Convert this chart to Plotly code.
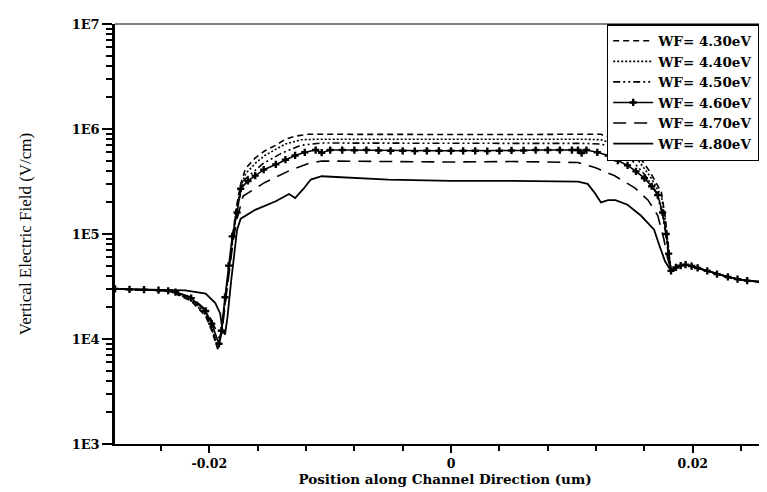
import plotly.graph_objects as go

# ---------------- data ----------------
series_names = ["WF= 4.30eV", "WF= 4.40eV", "WF= 4.50eV", "WF= 4.60eV", "WF= 4.70eV", "WF= 4.80eV"]

# common left start (um, V/cm)
head_x = [-0.0278, -0.0266, -0.0254, -0.0242]
head_y = [3.0e4, 2.97e4, 2.95e4, 2.92e4]

# common right tail
tail_x = [0.0182, 0.0186, 0.0190, 0.0194, 0.0199, 0.0204, 0.0212, 0.0220, 0.0229, 0.0237, 0.0245, 0.0256, 0.0268]
tail_y = [4.45e4, 4.8e4, 5.0e4, 5.1e4, 4.95e4, 4.75e4, 4.45e4, 4.15e4, 3.9e4, 3.72e4, 3.6e4, 3.5e4, 3.45e4]

wf430_x = [-0.0234, -0.0228, -0.0215, -0.0203, -0.0198, -0.0193, -0.0190, -0.0187, -0.0184, -0.0181, -0.0178, -0.0174,
           -0.0170, -0.0162, -0.0154, -0.0145, -0.0137, -0.0129, -0.0118, -0.0090, -0.0050, 0.0, 0.0050, 0.0090,
           0.0124, 0.0138, 0.0155, 0.0165, 0.0174, 0.0177, 0.0179, 0.0181]
wf430_y = [2.88e4, 2.7e4, 2.3e4, 1.65e4, 1.2e4, 8.0e3, 1.1e4, 2.2e4, 4.5e4, 9.0e4, 1.7e5, 3.0e5,
           4.2e5, 5.3e5, 6.2e5, 7.0e5, 8.0e5, 8.55e5, 8.9e5, 8.9e5, 8.85e5, 8.8e5, 8.85e5, 8.9e5,
           8.9e5, 7.7e5, 5.6e5, 3.85e5, 2.5e5, 1.5e5, 9.3e4, 5.5e4]

wf440_x = [-0.0234, -0.0228, -0.0215, -0.0203, -0.0198, -0.0193, -0.0190, -0.0187, -0.0184, -0.0181, -0.0178, -0.0174,
           -0.0170, -0.0162, -0.0154, -0.0145, -0.0137, -0.0124, -0.0110, -0.0050, 0.0, 0.0050, 0.0110,
           0.0124, 0.0138, 0.0155, 0.0165, 0.0174, 0.0177, 0.0179, 0.0181]
wf440_y = [2.88e4, 2.72e4, 2.35e4, 1.7e4, 1.25e4, 8.3e3, 1.15e4, 2.2e4, 4.4e4, 8.5e4, 1.6e5, 2.8e5,
           3.75e5, 4.7e5, 5.6e5, 6.4e5, 7.2e5, 7.9e5, 8.0e5, 8.0e5, 7.95e5, 8.0e5, 8.0e5,
           7.9e5, 7.0e5, 5.0e5, 3.5e5, 2.3e5, 1.45e5, 9.0e4, 5.4e4]

wf450_x = [-0.0234, -0.0228, -0.0215, -0.0203, -0.0198, -0.0193, -0.0190, -0.0187, -0.0184, -0.0181, -0.0178, -0.0172,
           -0.0156, -0.0140, -0.0124, -0.0107, -0.0050, 0.0, 0.0050, 0.0107,
           0.0124, 0.0138, 0.0150, 0.0160, 0.0170, 0.0175, 0.0178, 0.0180]
wf450_y = [2.88e4, 2.75e4, 2.4e4, 1.75e4, 1.3e4, 8.6e3, 1.2e4, 2.3e4, 4.5e4, 8.5e4, 1.5e5, 3.2e5,
           4.65e5, 5.9e5, 7.0e5, 7.35e5, 7.3e5, 7.25e5, 7.3e5, 7.3e5,
           7.2e5, 6.4e5, 5.0e5, 3.7e5, 2.5e5, 1.5e5, 9.5e4, 6.0e4]

wf460_x = [-0.0234, -0.0228, -0.0215, -0.0203, -0.0198, -0.0192, -0.0190, -0.0187, -0.0184, -0.0181, -0.0177, -0.0174,
           -0.0168, -0.0162, -0.0155, -0.0145, -0.0137, -0.0129, -0.0121, -0.0112, -0.0107, -0.0100,
           -0.0090, -0.0080, -0.0070, -0.0060, -0.0050, -0.0040, -0.0030, -0.0020, -0.0010, 0.0,
           0.0010, 0.0020, 0.0030, 0.0040, 0.0050, 0.0060, 0.0070, 0.0080, 0.0090, 0.0100,
           0.0105, 0.0108, 0.0112, 0.0121, 0.0130, 0.0138, 0.0146, 0.0153, 0.0160, 0.0166, 0.0171,
           0.0175, 0.0178, 0.0180]
wf460_y = [2.88e4, 2.8e4, 2.45e4, 1.85e4, 1.4e4, 9.0e3, 1.2e4, 2.5e4, 5.0e4, 9.5e4, 1.6e5, 2.7e5,
           3.2e5, 3.6e5, 4.1e5, 4.6e5, 5.1e5, 5.6e5, 6.0e5, 6.3e5, 5.95e5, 6.3e5,
           6.3e5, 6.28e5, 6.3e5, 6.25e5, 6.2e5, 6.2e5, 6.15e5, 6.2e5, 6.2e5, 6.2e5,
           6.2e5, 6.2e5, 6.15e5, 6.2e5, 6.25e5, 6.25e5, 6.3e5, 6.3e5, 6.3e5, 6.3e5,
           6.3e5, 5.9e5, 6.3e5, 6.0e5, 5.6e5, 5.0e5, 4.5e5, 3.95e5, 3.4e5, 2.85e5, 2.35e5,
           1.6e5, 1.0e5, 6.5e4]

wf470_x = [-0.0234, -0.0228, -0.0215, -0.0203, -0.0198, -0.0191, -0.0189, -0.0186, -0.0183, -0.0180, -0.0177, -0.0172,
           -0.0154, -0.0134, -0.0118, -0.0107, -0.0050, 0.0, 0.0050, 0.0105,
           0.0119, 0.0135, 0.0152, 0.0163, 0.0171, 0.0176, 0.0179]
wf470_y = [2.88e4, 2.8e4, 2.5e4, 1.9e4, 1.5e4, 9.8e3, 1.3e4, 2.6e4, 5.0e4, 9.0e4, 1.4e5, 2.3e5,
           3.1e5, 4.0e5, 4.7e5, 4.95e5, 4.9e5, 4.85e5, 4.9e5, 4.8e5,
           4.3e5, 3.6e5, 2.75e5, 2.1e5, 1.5e5, 9.0e4, 6.0e4]

wf480_x = [-0.0234, -0.0220, -0.0203, -0.0195, -0.0191, -0.0189, -0.0187, -0.0185, -0.0182, -0.0179, -0.0177, -0.0174,
           -0.0162, -0.0145, -0.0134, -0.0129, -0.0122, -0.0116, -0.0107, -0.0052, 0.0, 0.0050, 0.0105,
           0.0113, 0.0119, 0.0124, 0.0130, 0.0136, 0.0146, 0.0157, 0.0168, 0.0172, 0.0177]
wf480_y = [2.9e4, 2.9e4, 2.7e4, 2.2e4, 1.75e4, 1.2e4, 1.1e4, 1.6e4, 3.5e4, 7.0e4, 1.1e5, 1.4e5,
           1.7e5, 2.05e5, 2.4e5, 2.2e5, 2.7e5, 3.3e5, 3.55e5, 3.3e5, 3.2e5, 3.2e5, 3.15e5,
           3.0e5, 2.45e5, 2.0e5, 2.1e5, 2.1e5, 1.9e5, 1.5e5, 1.1e5, 8.0e4, 5.5e4]

mid_x = [wf430_x, wf440_x, wf450_x, wf460_x, wf470_x, wf480_x]
mid_y = [wf430_y, wf440_y, wf450_y, wf460_y, wf470_y, wf480_y]

y_tickvals = [1e3, 1e4, 1e5, 1e6, 1e7]
y_ticktext = ["1E3", "1E4", "1E5", "1E6", "1E7"]
x_tickvals = [-0.02, 0.0, 0.02]
x_ticktext = ["-0.02", "0", "0.02"]

# ---------------- styles ----------------
dashes = ["6px,4px", "2px,2px", "7px,3px,2px,3px,2px,3px", "solid", "13px,8px", "solid"]
widths = [1.6, 1.6, 1.6, 1.6, 1.6, 1.8]

fig = go.Figure()
for i, name in enumerate(series_names):
    xs = head_x + mid_x[i] + tail_x
    ys = head_y + mid_y[i] + tail_y
    tr = dict(x=xs, y=ys, name=name, mode="lines",
              line=dict(color="black", width=widths[i], dash=dashes[i]))
    if i == 3:
        tr["mode"] = "lines+markers"
        tr["marker"] = dict(symbol="cross", size=6, color="black")
    fig.add_trace(go.Scatter(**tr))

tickfont_x = dict(family="DejaVu Serif", size=12.5, color="black", weight="bold")
titlefont_x = dict(family="DejaVu Serif", size=13.5, color="black", weight="bold")

minor_vals = [m * 10 ** e for e in range(3, 7) for m in range(2, 10)]

fig.update_layout(
    width=767, height=492,
    margin=dict(l=107, r=0, t=16, b=56),
    paper_bgcolor="white", plot_bgcolor="white",
    showlegend=True,
    legend=dict(x=0.745, y=1.0, xanchor="left", yanchor="top",
                bgcolor="white", bordercolor="black", borderwidth=1.5,
                font=dict(family="DejaVu Serif", size=13.5, color="black", weight="bold"),
                itemwidth=40, tracegroupgap=0),
    xaxis=dict(range=[-0.0278, 0.0268], tickmode="array", tickvals=x_tickvals, ticktext=x_ticktext,
               ticks="outside", ticklen=7, tickwidth=2, tickcolor="black",
               minor=dict(tickmode="linear", tick0=0, dtick=0.004, ticks="outside", ticklen=5,
                          tickwidth=2, tickcolor="black", showgrid=False),
               showline=True, linewidth=2, linecolor="black", showgrid=False, zeroline=False,
               tickfont=tickfont_x,
               title=dict(text="Position along Channel Direction (um)", font=titlefont_x, standoff=3)),
    yaxis=dict(type="log", range=[3, 7], tickmode="array", tickvals=y_tickvals, ticktext=y_ticktext,
               ticks="outside", ticklen=10, tickwidth=1.5, tickcolor="black",
               minor=dict(tickmode="array", tickvals=minor_vals, ticks="outside", ticklen=6,
                          tickwidth=1.5, tickcolor="black", showgrid=False),
               showline=True, linewidth=2.5, linecolor="black", showgrid=False, zeroline=False,
               tickfont=dict(family="DejaVu Serif", size=13, color="black", weight="bold"),
               title=dict(text="Vertical Electric Field (V/cm)",
                          font=dict(family="Liberation Serif", size=17, color="black"), standoff=36)),
    shapes=[dict(type="line", xref="paper", yref="paper", x0=0, x1=1, y0=1, y1=1,
                 line=dict(color="black", width=1))],
)

fig.write_html("out.html")
